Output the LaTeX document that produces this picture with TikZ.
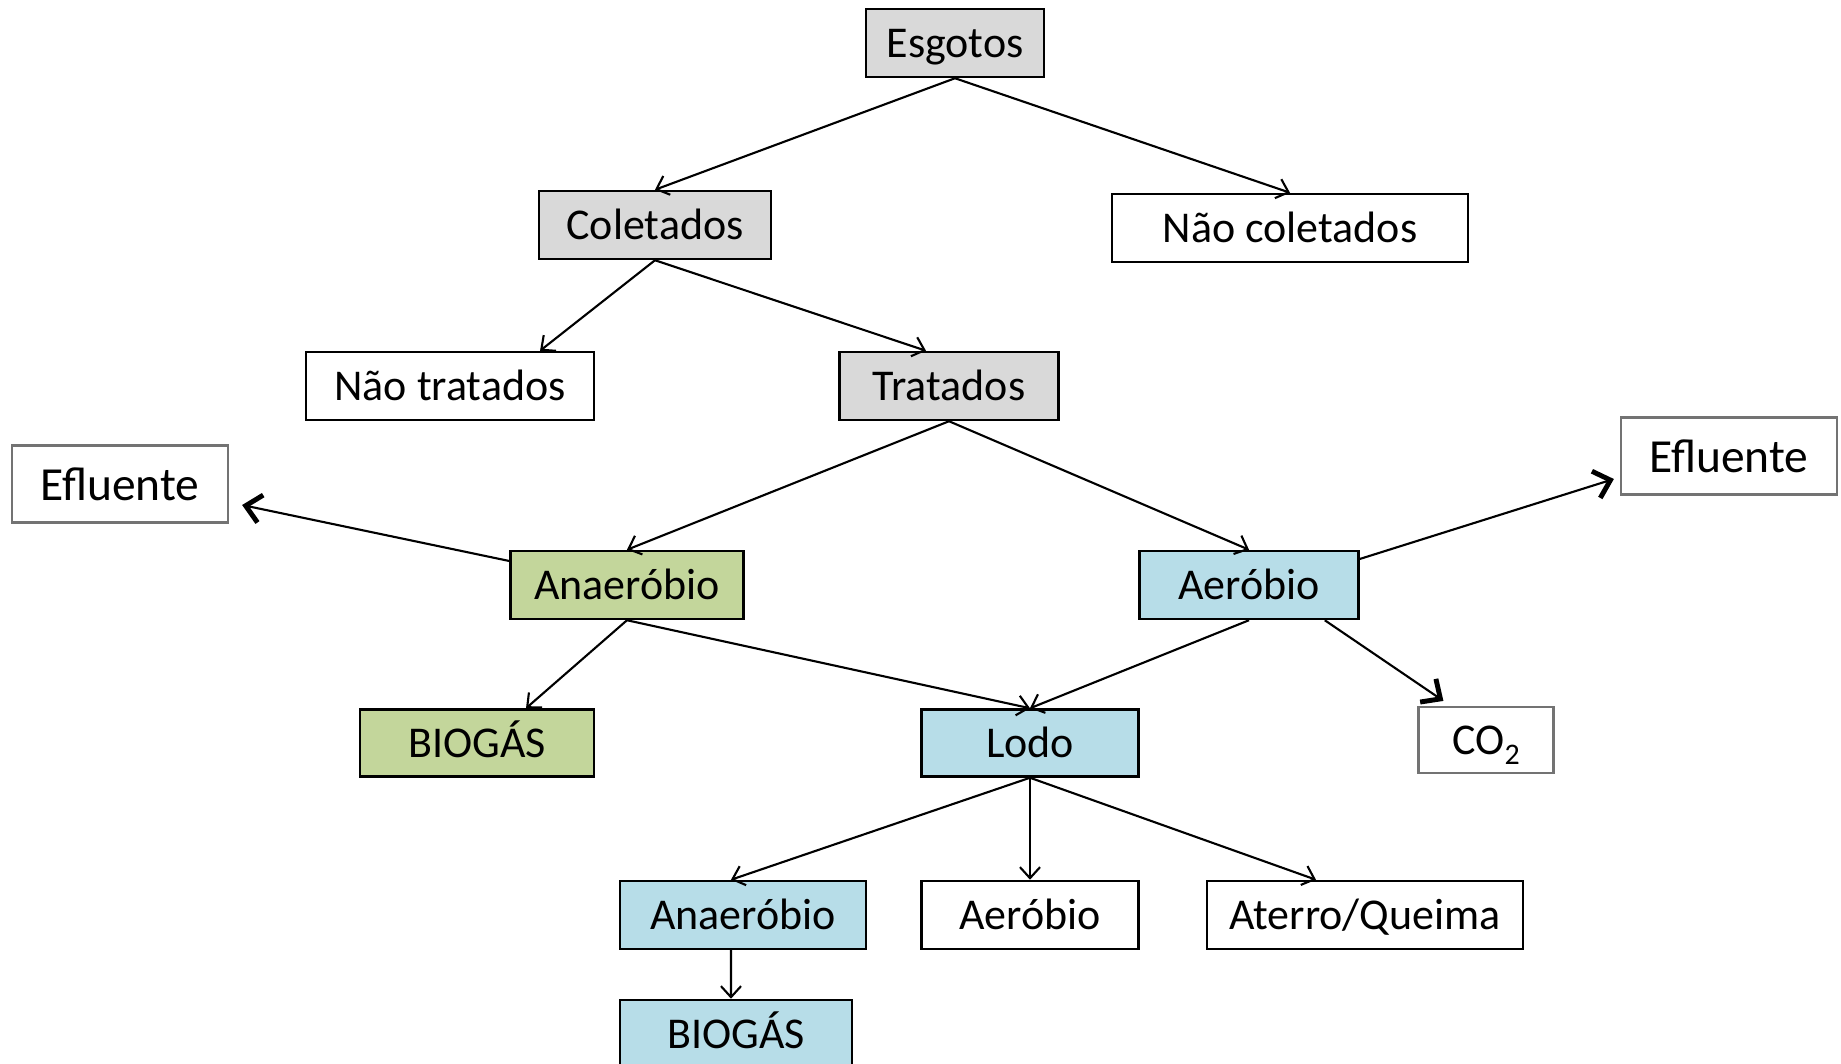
\documentclass[tikz,border=0pt]{standalone}
\usepackage{fontspec}
\setmainfont{Carlito}
\usetikzlibrary{arrows.meta}

\definecolor{boxgray}{HTML}{D9D9D9}
\definecolor{boxgreen}{HTML}{C3D69B}
\definecolor{boxblue}{HTML}{B7DDE8}

\begin{document}
\begin{tikzpicture}[
  x=0.01cm, y=-0.01cm,
  every node/.style={rectangle, draw=black, line width=0.7pt, inner sep=0pt, minimum height=0.68cm, text height=0.85em, text depth=0pt, font=\fontsize{12.5}{15}\selectfont},
  grey box/.style={fill=boxgray},
  green box/.style={fill=boxgreen},
  blue box/.style={fill=boxblue},
  out box/.style={draw=black!55, line width=0.6pt},
  link/.style={draw, line width=0.6pt, -{Straight Barb[length=1.1mm,width=2mm]}},
  bold link/.style={draw, line width=0.6pt, -{Straight Barb[length=1.5mm,width=2.8mm,line width=1.4pt]}}
]
  \useasboundingbox (0,0) rectangle (1841,1064);

  \node[grey box, minimum width=1.78cm] (esg) at (955,43) {Esgotos};
  \node[grey box, minimum width=2.32cm] (col) at (655,225) {Coletados};
  \node[minimum width=3.56cm] (ncol) at (1290,228) {Não coletados};
  \node[minimum width=2.88cm] (ntrat) at (450,386) {Não tratados};
  \node[grey box, minimum width=2.19cm] (trat) at (949,386) {Tratados};

  \node[out box, minimum width=2.16cm, minimum height=0.77cm, text height=0.95em, font=\fontsize{13.5}{16}\selectfont] (eflL) at (120,484) {Efluente};
  \node[out box, minimum width=2.16cm, minimum height=0.77cm, text height=0.95em, font=\fontsize{13.5}{16}\selectfont] (eflR) at (1729,456) {Efluente};

  \node[green box, minimum width=2.33cm] (anae) at (627,585) {Anaeróbio};
  \node[blue box, minimum width=2.19cm] (aer) at (1249,585) {Aeróbio};

  \node[green box, minimum width=2.34cm, minimum height=0.67cm] (bio) at (477,743) {BIOGÁS};
  \node[blue box, minimum width=2.17cm, minimum height=0.67cm] (lodo) at (1030,743) {Lodo};
  \node[out box, minimum width=1.35cm, minimum height=0.66cm, font=\fontsize{12.5}{15}\selectfont] (co2) at (1486,740) {CO\raisebox{-0.45ex}{\fontsize{8.5}{10}\selectfont 2}};

  \node[blue box, minimum width=2.46cm] (anae2) at (743,915) {Anaeróbio};
  \node[minimum width=2.17cm] (aer2) at (1030,915) {Aeróbio};
  \node[minimum width=3.16cm] (ater) at (1365,915) {Aterro/Queima};
  \node[blue box, minimum width=2.32cm] (bio2) at (736,1034) {BIOGÁS};

  % esgotos
  \draw[link] (esg.south) -- (col.north);
  \draw[link] (esg.south) -- (ncol.north);
  \draw[link] (col.south) -- ([xshift=0.9cm]ntrat.north);
  \draw[link] (col.south) -- ([xshift=-0.23cm]trat.north);
  \draw[link] (trat.south) -- (anae.north);
  \draw[link] (trat.south) -- (aer.north);

  % tratamento
  \draw[bold link] ([yshift=0.24cm]anae.west) -- ([xshift=0.13cm,yshift=-0.21cm]eflL.east);
  \draw[bold link] ([yshift=0.26cm]aer.east) -- ([xshift=-0.06cm,yshift=-0.23cm]eflR.west);
  \draw[link] (anae.south) -- ([xshift=0.49cm]bio.north);
  \draw[link] (anae.south) -- (lodo.north);
  \draw[link] (aer.south) -- (lodo.north);
  \draw[bold link] ([xshift=-0.35cm]aer.south east) -- ([xshift=0.26cm,yshift=0.05cm]co2.north west);

  % lodo
  \draw[link] (lodo.south) -- ([xshift=-0.12cm]anae2.north);
  \draw[link] (lodo.south) -- (aer2.north);
  \draw[link] (lodo.south) -- ([xshift=-0.49cm]ater.north);
  \draw[link] ([xshift=-0.12cm]anae2.south) -- ([xshift=-0.05cm]bio2.north);
\end{tikzpicture}
\end{document}
